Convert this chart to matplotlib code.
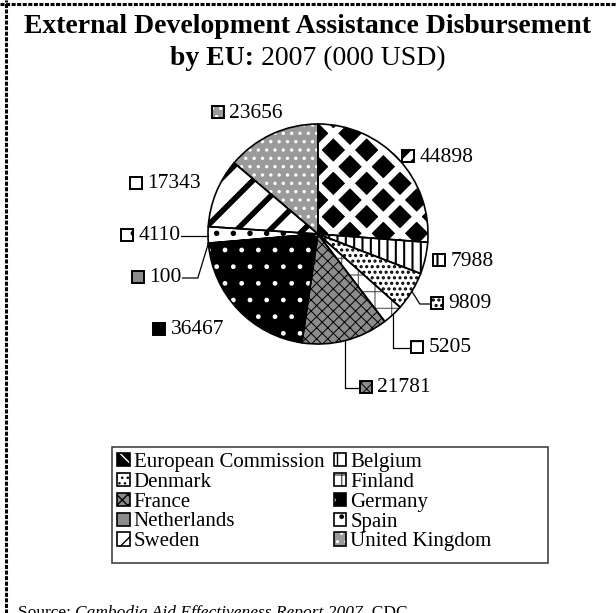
import numpy as np
import matplotlib
matplotlib.use('Agg')
import matplotlib.pyplot as plt
from matplotlib.patches import Rectangle
from matplotlib.lines import Line2D
from matplotlib.offsetbox import DrawingArea, TextArea, HPacker, AnnotationBbox

plt.rcParams['font.family'] = ['Liberation Serif', 'DejaVu Serif']
plt.rcParams['lines.scale_dashes'] = False

# data
donors = ['European Commission', 'Belgium', 'Denmark', 'Finland', 'France',
          'Germany', 'Netherlands', 'Spain', 'Sweden', 'United Kingdom']
amounts = [44898, 7988, 9809, 5205, 21781, 36467, 100, 4110, 17343, 23656]

# black & white fill styles
faces = ['black', 'white', 'white', 'white', '#8c8c8c',
         'black', '#8c8c8c', 'white', 'white', '#9a9a9a']
hatches = ['x', '||', '...', '+', 'xxx', '.', '', '.', '/', '..']
hatch_cols = ['white', 'black', 'black', '#555555', 'black',
              'white', 'black', 'black', 'black', 'white']
hatch_lw = [5.0, 1.5, 1.5, 0.8, 0.7, 1.0, 1.0, 1.5, 4.0, 1.2]

# label spots in pixels (marker left edge, centre y) and leader line angle
lab_px = [(402, 157), (433, 261), (431, 304), (411, 348), (360, 388),
          (153, 330), (132, 278), (121, 236), (130, 184), (212, 113)]
leader = [None, None, -58, 90, 90, None, 73, 90, None, None]

W, H = 616, 613
R, cx, cy = 110, 318, 234


def px(x, y):
    return ((x - cx) / R, (cy - y) / R)


def style(p, i):
    p.set_facecolor(faces[i])
    p.set_hatch(hatches[i])
    p.set_edgecolor(hatch_cols[i])
    p.set_linewidth(0)
    if hasattr(p, 'set_hatch_linewidth'):
        p.set_hatch_linewidth(hatch_lw[i])


def text_row(pieces, x, y, size, center=False):
    # pieces: (text, weight, style) written one after another on one baseline
    r = fig.canvas.get_renderer()
    arts = [fig.text(0, y, t, fontsize=size, fontweight=wt, fontstyle=st,
                     ha='left', va='baseline') for t, wt, st in pieces]
    widths = [a.get_window_extent(r).width for a in arts]
    start = (W - sum(widths)) / 2 if center else x
    for a, wd in zip(arts, widths):
        a.set_x(start / W)
        start += wd


fig = plt.figure(figsize=(W / 100, H / 100), dpi=100)
ax = fig.add_axes([0, 0, 1, 1])

wedges, _ = ax.pie(amounts, startangle=90, counterclock=False, radius=1)
for i, w in enumerate(wedges):
    style(w, i)
ax.pie(amounts, startangle=90, counterclock=False, radius=1,
       wedgeprops=dict(fill=False, edgecolor='black', linewidth=1.2))

ax.set_xlim(-cx / R, (W - cx) / R)
ax.set_ylim(-(H - cy) / R, cy / R)
ax.set_aspect('auto')
ax.axis('off')

# value labels with little pattern squares
s = 8.6
for i, w in enumerate(wedges):
    da = DrawingArea(s, s, 0, 0)
    r1 = Rectangle((0, 0), s, s)
    style(r1, i)
    da.add_artist(r1)
    da.add_artist(Rectangle((0, 0), s, s, fill=False, edgecolor='black', lw=1.4))
    ta = TextArea(str(amounts[i]), textprops=dict(fontsize=15.5))
    box = HPacker(children=[da, ta], sep=4, align='baseline', pad=0)
    pos = px(*lab_px[i])
    if leader[i] is None:
        ab = AnnotationBbox(box, pos, box_alignment=(0, 0.5), frameon=False, pad=0)
    else:
        ang = np.deg2rad((w.theta1 + w.theta2) / 2)
        edge = (w.r * np.cos(ang), w.r * np.sin(ang))
        ab = AnnotationBbox(box, edge, xybox=pos, box_alignment=(0, 0.5),
                            frameon=False, pad=0,
                            arrowprops=dict(arrowstyle='-', color='black', lw=0.9,
                                            shrinkA=0, shrinkB=0, relpos=(0, 0.5),
                                            connectionstyle=f'angle,angleA=0,angleB={leader[i]},rad=0'))
    ax.add_artist(ab)

# legend (row order like the original)
handles = []
for i in range(len(donors)):
    r1 = Rectangle((0, 0), 1, 1)
    style(r1, i)
    r2 = Rectangle((0, 0), 1, 1, fill=False, edgecolor='black', lw=1.2)
    handles.append((r1, r2))
order = [0, 2, 4, 6, 8, 1, 3, 5, 7, 9]
fig.legend([handles[i] for i in order], [donors[i] for i in order], ncol=2,
           loc='upper left', bbox_to_anchor=(117 / W, 1 - 453 / H),
           frameon=False, fontsize=15, handlelength=0.6, handleheight=0.6,
           handletextpad=0.2, columnspacing=0.45, labelspacing=0.04,
           borderpad=0, borderaxespad=0)
x0, y0 = px(112, 563)
ax.add_patch(Rectangle((x0, y0), (548 - 112) / R, (563 - 447) / R,
                       fill=False, edgecolor='#333333', lw=1.1))

# title
text_row([('External Development Assistance Disbursement', 'bold', 'normal')],
         0, 1 - 33 / H, 20, center=True)
text_row([('by EU:', 'bold', 'normal'), (' 2007 (000 USD)', 'normal', 'normal')],
         0, 1 - 65 / H, 20, center=True)

# source line, cut by the bottom edge
text_row([('Source: ', 'normal', 'normal'),
          ('Cambodia Aid Effectiveness Report 2007', 'normal', 'italic'),
          (', CDC', 'normal', 'normal')], 18, 1 - 617 / H, 12.5)

# dashed page border
fig.add_artist(Line2D([5.5 / W] * 2, [0, 1], transform=fig.transFigure,
                      color='black', lw=2.2, linestyle=(0, (2.9, 1.1))))
fig.add_artist(Line2D([0, 1], [1 - 3.5 / H] * 2, transform=fig.transFigure,
                      color='black', lw=2.2, linestyle=(0, (2.9, 1.1))))

fig.savefig('out.png', dpi=100)
